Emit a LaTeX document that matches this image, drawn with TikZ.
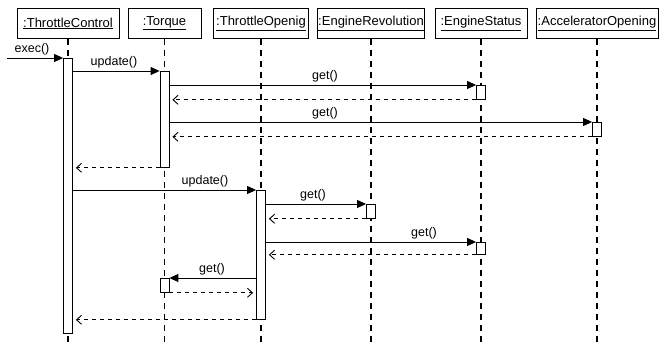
\documentclass[tikz,border=0pt]{standalone}
\usepackage{fontspec}
\setmainfont{Liberation Sans}
\usetikzlibrary{arrows.meta}
\begin{document}
\begin{tikzpicture}[x=1pt,y=-1pt,
  font=\fontsize{12.5}{14}\selectfont,
  head/.style={draw, line width=0.8pt, minimum height=30pt, inner sep=0pt, anchor=north, fill=white,
    font=\fontsize{13}{15}\selectfont},
  life/.style={line width=1.3pt, dash pattern=on 6pt off 5pt},
  bar/.style={draw, fill=white, line width=0.8pt, minimum width=9pt, inner sep=0pt, anchor=north},
  call/.style={line width=0.9pt, -{Triangle[length=9pt,width=8pt]}},
  reply/.style={line width=0.9pt, dash pattern=on 4pt off 4pt, shorten >=3pt, -{Straight Barb[length=5pt,width=9pt]}},
  lbl/.style={inner sep=0pt, anchor=base}
]
\useasboundingbox (0,0) rectangle (665,347);

% object heads
\node[head, minimum width=102pt] (tc) at (68,8)    {\underline{:ThrottleControl}};
\node[head, minimum width=73pt]  (tq) at (164.5,8) {\underline{:Torque}};
\node[head, minimum width=95pt]  (to) at (261,8)   {\underline{:ThrottleOpenig}};
\node[head, minimum width=107pt] (er) at (371,8)   {\underline{:EngineRevolution}};
\node[head, minimum width=92pt]  (es) at (481,8)   {\underline{:EngineStatus}};
\node[head, minimum width=122pt] (ao) at (597,8)   {\underline{:AcceleratorOpening}};

% lifelines
\coordinate (tcEnd) at (68,347);
\coordinate (tqEnd) at (164.5,347);
\coordinate (toEnd) at (261,347);
\coordinate (erEnd) at (371,347);
\coordinate (esEnd) at (481,347);
\coordinate (aoEnd) at (597,347);
\draw[life] (tc) -- (tcEnd);
\draw[life] (tq) -- (tqEnd);
\draw[life] (to) -- (toEnd);
\draw[life] (er) -- (erEnd);
\draw[life] (es) -- (esEnd);
\draw[life] (ao) -- (aoEnd);

% activation bars
\node[bar, minimum height=275pt] (tcA) at (68,58)     {};
\node[bar, minimum height=96pt]  (tqA) at (164.5,71)  {};
\node[bar, minimum height=14pt]  (es1) at (481,85)    {};
\node[bar, minimum height=14pt]  (ao1) at (597,122)   {};
\node[bar, minimum height=129pt] (toA) at (261,190)   {};
\node[bar, minimum height=14pt]  (er1) at (371,204)   {};
\node[bar, minimum height=12pt]  (es2) at (481,242)   {};
\node[bar, minimum height=14pt]  (tq2) at (164.5,278) {};

% messages
\coordinate (src) at (7,58);
\draw[call]  (src) -- (tcA.north west);
\draw[call]  (tcA.east |- tqA.north) -- (tqA.north west);
\draw[call]  (tqA.east |- es1.north) -- (es1.north west);
\draw[reply] (es1.south west) -- (tqA.east |- es1.south);
\draw[call]  (tqA.east |- ao1.north) -- (ao1.north west);
\draw[reply] (ao1.south west) -- (tqA.east |- ao1.south);
\draw[reply] (tqA.south west) -- (tcA.east |- tqA.south);
\draw[call]  (tcA.east |- toA.north) -- (toA.north west);
\draw[call]  (toA.east |- er1.north) -- (er1.north west);
\draw[reply] (er1.south west) -- (toA.east |- er1.south);
\draw[call]  (toA.east |- es2.north) -- (es2.north west);
\draw[reply] (es2.south west) -- (toA.east |- es2.south);
\draw[call]  (toA.west |- tq2.north) -- (tq2.north east);
\draw[reply] (tq2.south east) -- (toA.west |- tq2.south);
\draw[reply] (toA.south west) -- (tcA.east |- toA.south);

% message labels
\node[lbl] (m1) at (32,53)   {exec()};
\node[lbl] (m2) at (114,66)  {update()};
\node[lbl] (m3) at (325,80)  {get()};
\node[lbl] (m4) at (325,117) {get()};
\node[lbl] (m5) at (205,185) {update()};
\node[lbl] (m6) at (313,199) {get()};
\node[lbl] (m7) at (424,237) {get()};
\node[lbl] (m8) at (212,273) {get()};
\end{tikzpicture}
\end{document}
